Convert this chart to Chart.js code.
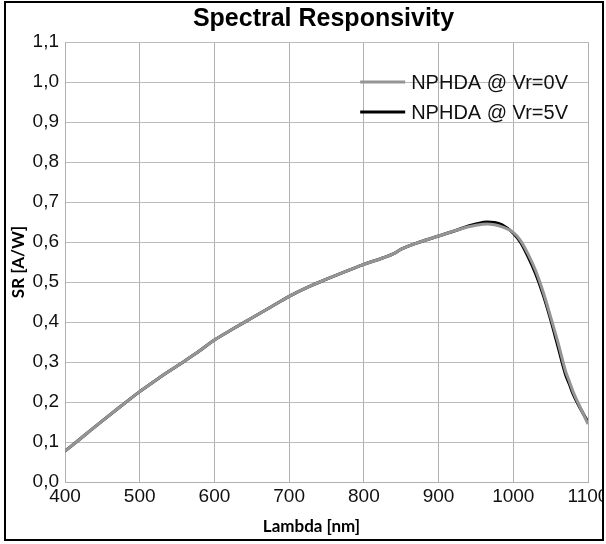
<!DOCTYPE html>
<html>
<head>
<meta charset="utf-8">
<script src="https://cdn.jsdelivr.net/npm/chart.js@4.4.1/dist/chart.umd.min.js"></script>
<style>
  body { margin: 0; background: #fff; }
  #frame { position: absolute; left: 4px; top: 1px; width: 600px; height: 540px;
           border: 2px solid #000; box-sizing: border-box; background: #fff; }
</style>
</head>
<body>
<div id="frame"><canvas id="sr"></canvas></div>
<script>
// wavelength [nm]
const lambda = [400, 425, 450, 475, 500, 525, 550, 575, 600, 625, 650, 675, 700, 725, 750, 775,
    800, 825, 840, 850, 875, 900, 925, 940, 950, 965, 975, 985, 1000, 1010, 1020, 1030,
    1040, 1050, 1060, 1070, 1075, 1080, 1090, 1100];

// SR [A/W] at Vr=0V
const sr0V = [0.077, 0.115, 0.153, 0.190, 0.226, 0.259, 0.290, 0.321, 0.355, 0.383, 0.410, 0.437,
    0.464, 0.487, 0.507, 0.526, 0.544, 0.560, 0.571, 0.582, 0.600, 0.615, 0.630, 0.638, 0.642,
    0.645, 0.643, 0.638, 0.624, 0.603, 0.569, 0.528, 0.475, 0.413, 0.348, 0.277, 0.252, 0.226,
    0.185, 0.145];

// SR [A/W] at Vr=5V
const sr5V = [0.077, 0.115, 0.153, 0.190, 0.226, 0.259, 0.290, 0.321, 0.355, 0.383, 0.410, 0.437,
    0.464, 0.487, 0.507, 0.526, 0.544, 0.560, 0.571, 0.582, 0.600, 0.615, 0.630, 0.640, 0.645,
    0.650, 0.649, 0.643, 0.622, 0.598, 0.562, 0.520, 0.468, 0.406, 0.337, 0.268, 0.245, 0.220,
    0.183, 0.150];

const seriesNames = ["NPHDA @ Vr=0V", "NPHDA @ Vr=5V"];
const seriesColors = ["#959595", "#000000"];
const yTicks = [0, 0.1, 0.2, 0.3, 0.4, 0.5, 0.6, 0.7, 0.8, 0.9, 1.0, 1.1];
const xTicks = [400, 500, 600, 700, 800, 900, 1000, 1100];

const tickFont = { family: "'Liberation Sans', Arial, sans-serif", size: 19 };

function pts(ys) {
    return lambda.map((x, i) => ({ x: x, y: ys[i] }));
}

// title, x-axis title and legend drawn by hand
const extras = {
    id: 'extras',
    afterDraw(chart) {
        const ctx = chart.ctx;
        const a = chart.chartArea;
        ctx.save();
        ctx.fillStyle = '#000';
        ctx.textBaseline = 'middle';
        ctx.textAlign = 'center';
        ctx.font = "bold 25px 'Liberation Sans', Arial, sans-serif";
        ctx.fillText("Spectral Responsivity", (a.left + a.right) / 2 - 3, 16);

        ctx.font = "bold 17px Lato, sans-serif";
        ctx.fillText("Lambda [nm]", (a.left + a.right) / 2 - 15, 524);

        // legend
        ctx.font = "20px 'Liberation Sans', Arial, sans-serif";
        ctx.textAlign = 'left';
        let tw = 0;
        seriesNames.forEach(n => { tw = Math.max(tw, ctx.measureText(n).width); });
        const tx = a.right - 20 - tw;
        chart.data.datasets.forEach((ds, i) => {
            const y = a.top + 40 + i * 30;
            ctx.strokeStyle = ds.borderColor;
            ctx.lineWidth = 3;
            ctx.beginPath();
            ctx.moveTo(tx - 51, y);
            ctx.lineTo(tx - 6, y);
            ctx.stroke();
            ctx.fillStyle = '#111';
            ctx.fillText(ds.label, tx, y + 1);
        });
        ctx.restore();
    }
};

new Chart(document.getElementById("sr"), {
    type: 'line',
    data: {
        datasets: [
            {
                label: seriesNames[0],
                data: pts(sr0V),
                borderColor: seriesColors[0],
                borderWidth: 3,
                pointRadius: 0,
                cubicInterpolationMode: 'monotone'
            },
            {
                label: seriesNames[1],
                data: pts(sr5V),
                borderColor: seriesColors[1],
                borderWidth: 3,
                pointRadius: 0,
                cubicInterpolationMode: 'monotone'
            }
        ]
    },
    options: {
        responsive: true,
        maintainAspectRatio: false,
        animation: false,
        layout: { padding: { top: 39, right: 14, bottom: 0, left: 0 } },
        plugins: {
            legend: { display: false },
            title: { display: false },
            tooltip: { enabled: false }
        },
        scales: {
            x: {
                type: 'linear',
                min: 400,
                max: 1100,
                afterBuildTicks: s => { s.ticks = xTicks.map(v => ({ value: v })); },
                afterFit: s => { s.height = 57; s.paddingRight = 0; s.paddingLeft = 0; },
                grid: { color: '#b0b0b0', drawTicks: false },
                border: { color: '#b0b0b0' },
                ticks: { font: tickFont, color: '#111', padding: 3, maxRotation: 0,
                    callback: v => String(v) }
            },
            y: {
                min: 0,
                max: 1.1,
                afterBuildTicks: s => { s.ticks = yTicks.map(v => ({ value: v })); },
                afterFit: s => { s.width = 59; },
                grid: { color: '#bcbcbc', drawTicks: false },
                border: { color: '#b0b0b0' },
                ticks: {
                    font: tickFont, color: '#111', padding: 6,
                    callback: v => v.toFixed(1).replace('.', ',')
                },
                title: {
                    display: true,
                    text: 'SR [A/W]',
                    font: { family: 'Lato, sans-serif', size: 17, weight: 'bold' },
                    color: '#000',
                    padding: { top: 2, bottom: 0 }
                }
            }
        }
    },
    plugins: [extras]
});
</script>
</body>
</html>
